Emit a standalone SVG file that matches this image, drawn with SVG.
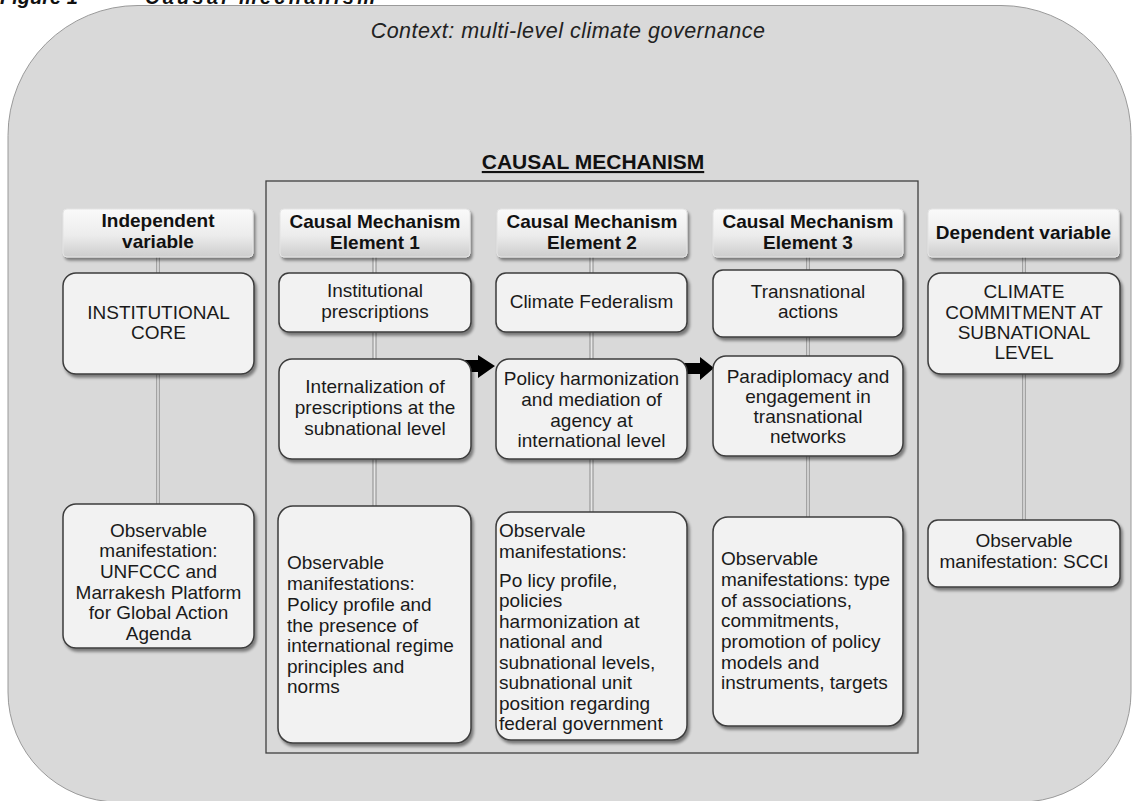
<svg xmlns="http://www.w3.org/2000/svg" width="1139" height="801" viewBox="0 0 1139 801">
  <defs>
    <linearGradient id="hdrFill" x1="0" y1="0" x2="0" y2="1">
      <stop offset="0" stop-color="#fafafa"/>
      <stop offset="0.55" stop-color="#ececec"/>
      <stop offset="1" stop-color="#cdcdcd"/>
    </linearGradient>
    <linearGradient id="pipe" x1="0" y1="0" x2="1" y2="0">
      <stop offset="0" stop-color="#8c8c8c"/>
      <stop offset="0.5" stop-color="#e6e6e6"/>
      <stop offset="1" stop-color="#8c8c8c"/>
    </linearGradient>
    <filter id="shadow" x="-10%" y="-10%" width="125%" height="130%">
      <feGaussianBlur in="SourceAlpha" stdDeviation="1.6"/>
      <feOffset dx="1.5" dy="2.5" result="b"/>
      <feComponentTransfer><feFuncA type="linear" slope="0.45"/></feComponentTransfer>
      <feMerge><feMergeNode/><feMergeNode in="SourceGraphic"/></feMerge>
    </filter>
  </defs>
  <style>
    .hdr { fill: url(#hdrFill); stroke: #e4e4e4; stroke-width: 1; filter: url(#shadow); }
    .box { fill: #f2f2f2; stroke: #3c3c3c; stroke-width: 1.5; filter: url(#shadow); }
    .ht { font-family: "Liberation Sans", Arial, sans-serif; font-weight: bold; font-size: 19px; fill: #111; text-anchor: middle; }
    .bt { font-family: "Liberation Sans", Arial, sans-serif; font-size: 19px; fill: #1a1a1a; text-anchor: middle; }
    .lt { font-family: "Liberation Sans", Arial, sans-serif; font-size: 19px; fill: #1a1a1a; }
    .cap { font-family: "Liberation Sans", Arial, sans-serif; font-weight: bold; font-style: italic; font-size: 20px; fill: #111; }
    .pipe { fill: url(#pipe); }
  </style>

  <!-- caption, partly above the top edge -->
  <text class="cap" x="0" y="4">Figure 1</text>
  <text class="cap" x="145" y="4" textLength="230" lengthAdjust="spacing">Causal mechanism</text>

  <!-- context backdrop -->
  <path d="M138 5.5 H1001 A130 130 0 0 1 1131 135.5 V692 A110 110 0 0 1 1021 802 H118 A110 110 0 0 1 8 692 V135.5 A130 130 0 0 1 138 5.5 Z" fill="#d9d9d9" stroke="#9a9a9a" stroke-width="1"/>
  <text x="568" y="38" font-family="'Liberation Sans', Arial, sans-serif" font-style="italic" font-size="21.5" letter-spacing="0.5" fill="#222" text-anchor="middle">Context:  multi-level climate governance</text>

  <!-- causal mechanism frame -->
  <g id="mechanism-frame">
    <rect x="266" y="181" width="652" height="572" fill="none" stroke="#404040" stroke-width="1.3"/>
    <text x="593" y="169" font-family="'Liberation Sans', Arial, sans-serif" font-weight="bold" font-size="21" fill="#111" text-anchor="middle" text-decoration="underline">CAUSAL MECHANISM</text>
  </g>

  <!-- connectors -->
  <g id="connectors">
    <rect class="pipe" x="156" y="257" width="4" height="16"/>
    <rect class="pipe" x="156" y="374" width="4" height="130"/>
    <rect class="pipe" x="372.5" y="257" width="4" height="16"/>
    <rect class="pipe" x="372.5" y="332" width="4" height="27"/>
    <rect class="pipe" x="372.5" y="459" width="4" height="47"/>
    <rect class="pipe" x="589.5" y="257" width="4" height="16"/>
    <rect class="pipe" x="589.5" y="332" width="4" height="27"/>
    <rect class="pipe" x="589.5" y="459" width="4" height="53"/>
    <rect class="pipe" x="806" y="257" width="4" height="13"/>
    <rect class="pipe" x="806" y="337" width="4" height="19"/>
    <rect class="pipe" x="806" y="456" width="4" height="61"/>
    <rect class="pipe" x="1022" y="257" width="4" height="16"/>
    <rect class="pipe" x="1022" y="374" width="4" height="146"/>
    <polygon points="455,360 478,360 478,355 495,366 478,378 478,372 455,372" fill="#000"/>
    <polygon points="683,363 700,363 700,357 714,368 700,380 700,374 683,374" fill="#000"/>
  </g>

  <!-- independent variable -->
  <g id="independent">
    <rect class="hdr" x="63" y="209" width="190" height="48" rx="4"/>
    <text class="ht" x="158" y="227">Independent</text>
    <text class="ht" x="158" y="248">variable</text>
  </g>
  <g id="institutional-core">
    <rect class="box" x="63" y="273" width="191" height="101" rx="13"/>
    <text class="bt" x="158.5" y="319">INSTITUTIONAL</text>
    <text class="bt" x="158.5" y="339">CORE</text>
  </g>
  <g id="independent-observable">
    <rect class="box" x="63" y="504" width="191" height="144" rx="13"/>
    <text class="bt" x="158.5" y="537">Observable</text>
    <text class="bt" x="158.5" y="557">manifestation:</text>
    <text class="bt" x="158.5" y="578">UNFCCC  and</text>
    <text class="bt" x="158.5" y="599">Marrakesh Platform</text>
    <text class="bt" x="158.5" y="619">for Global Action</text>
    <text class="bt" x="158.5" y="640">Agenda</text>
  </g>

  <!-- element 1 -->
  <g id="element-1">
    <rect class="hdr" x="280" y="209" width="190" height="48" rx="4"/>
    <text class="ht" x="375" y="228">Causal Mechanism</text>
    <text class="ht" x="375" y="249">Element 1</text>
  </g>
  <g id="institutional-prescriptions">
    <rect class="box" x="279" y="273" width="192" height="59" rx="10"/>
    <text class="bt" x="375" y="297">Institutional</text>
    <text class="bt" x="375" y="318">prescriptions</text>
  </g>
  <g id="internalization">
    <rect class="box" x="279" y="359" width="192" height="100" rx="13"/>
    <text class="bt" x="375" y="393">Internalization  of</text>
    <text class="bt" x="375" y="414">prescriptions at the</text>
    <text class="bt" x="375" y="435">subnational  level</text>
  </g>
  <g id="element-1-observable">
    <rect class="box" x="278" y="506" width="193" height="237" rx="15"/>
    <text class="lt" x="287" y="569">Observable</text>
    <text class="lt" x="287" y="590">manifestations:</text>
    <text class="lt" x="287" y="611">Policy profile and</text>
    <text class="lt" x="287" y="632">the presence of</text>
    <text class="lt" x="287" y="652">international  regime</text>
    <text class="lt" x="287" y="673">principles and</text>
    <text class="lt" x="287" y="693">norms</text>
  </g>

  <!-- element 2 -->
  <g id="element-2">
    <rect class="hdr" x="497" y="209" width="190" height="48" rx="4"/>
    <text class="ht" x="592" y="228">Causal Mechanism</text>
    <text class="ht" x="592" y="249">Element 2</text>
  </g>
  <g id="climate-federalism">
    <rect class="box" x="496" y="273" width="191" height="59" rx="10"/>
    <text class="bt" x="591.5" y="308">Climate Federalism</text>
  </g>
  <g id="policy-harmonization">
    <rect class="box" x="496" y="359" width="191" height="100" rx="13"/>
    <text class="bt" x="591.5" y="385">Policy harmonization</text>
    <text class="bt" x="591.5" y="406">and mediation of</text>
    <text class="bt" x="591.5" y="427">agency at</text>
    <text class="bt" x="591.5" y="447">international  level</text>
  </g>
  <g id="element-2-observable">
    <rect class="box" x="496" y="512" width="191" height="228" rx="15"/>
    <text class="lt" x="499" y="537">Observale</text>
    <text class="lt" x="499" y="558">manifestations:</text>
    <text class="lt" x="499" y="587">Po licy profile,</text>
    <text class="lt" x="499" y="607">policies</text>
    <text class="lt" x="499" y="628">harmonization  at</text>
    <text class="lt" x="499" y="648">national  and</text>
    <text class="lt" x="499" y="669">subnational  levels,</text>
    <text class="lt" x="499" y="689">subnational  unit</text>
    <text class="lt" x="499" y="710">position regarding</text>
    <text class="lt" x="499" y="730">federal government</text>
  </g>

  <!-- element 3 -->
  <g id="element-3">
    <rect class="hdr" x="713" y="209" width="190" height="48" rx="4"/>
    <text class="ht" x="808" y="228">Causal Mechanism</text>
    <text class="ht" x="808" y="249">Element 3</text>
  </g>
  <g id="transnational-actions">
    <rect class="box" x="713" y="270" width="190" height="67" rx="10"/>
    <text class="bt" x="808" y="298">Transnational</text>
    <text class="bt" x="808" y="318">actions</text>
  </g>
  <g id="paradiplomacy">
    <rect class="box" x="713" y="356" width="190" height="100" rx="13"/>
    <text class="bt" x="808" y="383">Paradiplomacy  and</text>
    <text class="bt" x="808" y="403">engagement  in</text>
    <text class="bt" x="808" y="423">transnational</text>
    <text class="bt" x="808" y="443">networks</text>
  </g>
  <g id="element-3-observable">
    <rect class="box" x="713" y="517" width="190" height="209" rx="15"/>
    <text class="lt" x="721" y="565">Observable</text>
    <text class="lt" x="721" y="586">manifestations:  type</text>
    <text class="lt" x="721" y="607">of associations,</text>
    <text class="lt" x="721" y="627">commitments,</text>
    <text class="lt" x="721" y="648">promotion of policy</text>
    <text class="lt" x="721" y="669">models and</text>
    <text class="lt" x="721" y="689">instruments,  targets</text>
  </g>

  <!-- dependent variable -->
  <g id="dependent">
    <rect class="hdr" x="928" y="209" width="191" height="48" rx="4"/>
    <text class="ht" x="1023.5" y="239">Dependent variable</text>
  </g>
  <g id="climate-commitment">
    <rect class="box" x="928" y="273" width="192" height="101" rx="13"/>
    <text class="bt" x="1024" y="298">CLIMATE</text>
    <text class="bt" x="1024" y="319">COMMITMENT AT</text>
    <text class="bt" x="1024" y="339">SUBNATIONAL</text>
    <text class="bt" x="1024" y="359">LEVEL</text>
  </g>
  <g id="dependent-observable">
    <rect class="box" x="928" y="520" width="192" height="67" rx="10"/>
    <text class="bt" x="1024" y="547">Observable</text>
    <text class="bt" x="1024" y="568">manifestation:  SCCI</text>
  </g>
</svg>
